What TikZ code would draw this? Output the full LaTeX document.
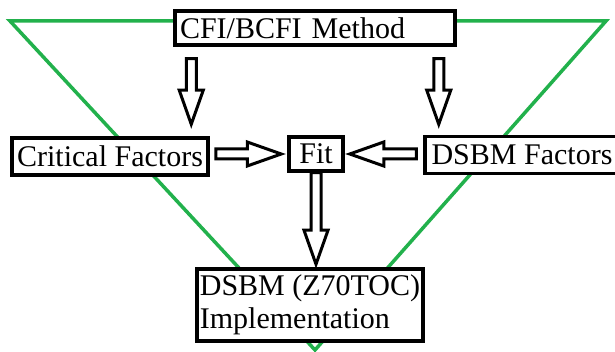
\documentclass[tikz,border=0pt]{standalone}
\usepackage{fontspec}
\setmainfont{Liberation Serif}
\usetikzlibrary{calc}
\definecolor{paintgreen}{RGB}{34,177,76}

% hollow block arrow, tip at #2
\newcommand\blockarrow[2]{%
  \coordinate (ba) at (#1);
  \coordinate (bb) at (#2);
  \coordinate (bh) at ($(bb)!34pt!(ba)$);
  \draw[hollow] ($(ba)!5pt!90:(bb)$) -- ($(bh)!5pt!90:(bb)$) -- ($(bh)!12pt!90:(bb)$)
    -- (bb) -- ($(bh)!12pt!-90:(bb)$) -- ($(bh)!5pt!-90:(bb)$) -- ($(ba)!5pt!-90:(bb)$) -- cycle;}

\begin{document}
\begin{tikzpicture}
[x=1pt, y=-1pt,
 nodes={draw=black, line width=3.5pt, fill=white, inner sep=5pt, align=left,
        font=\fontsize{30}{33}\selectfont},
 hollow/.style={draw=black, fill=white, line width=3pt, line join=miter}]
\useasboundingbox (0,0) rectangle (615,352);
\draw[paintgreen, line width=3.5pt] (10,21) -- (606,21) -- (315,350) -- cycle;

\node (CFI) at (315,28) [text width=270pt, minimum height=34pt] {CFI/BCFI Method};
\node (CF) at (110,156.5) [inner xsep=3pt, minimum width=196pt, minimum height=37pt] {Critical Factors};
\node (Fit) at (316,154) [minimum width=54pt, minimum height=34pt] {Fit};
\node (DF) at (522,155) [minimum width=194pt, minimum height=37pt] {DSBM Factors};
\node (Impl) at (310,305) [inner xsep=3pt, minimum width=226pt, minimum height=72pt] {DSBM (Z70TOC)\\Implementation};

\blockarrow{$(CFI.south west)+(18,12)$}{$(CFI.south west |- CF.north)+(18,-12)$}
\blockarrow{$(CFI.south east)+(-18,12)$}{$(CFI.south east |- CF.north)+(-18,-12)$}
\blockarrow{$(CF.east |- Fit.west)+(6,0)$}{$(Fit.west)+(-6,0)$}
\blockarrow{$(DF.west |- Fit.east)+(-7,0)$}{$(Fit.east)+(5,0)$}
\blockarrow{Fit.south}{$(Fit.south |- Impl.north)+(0,-3)$}
\end{tikzpicture}
\end{document}
